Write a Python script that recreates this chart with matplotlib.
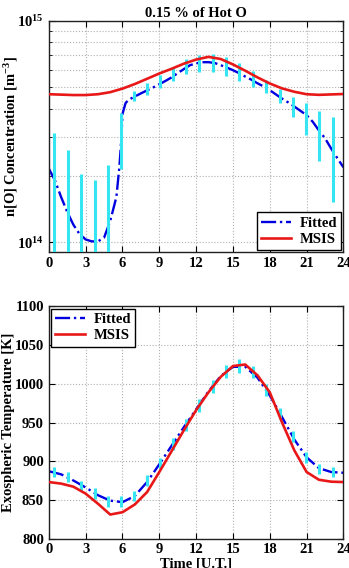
import numpy as np
import matplotlib
matplotlib.use('Agg')
import matplotlib.pyplot as plt
from matplotlib.ticker import NullFormatter, LogLocator

plt.rcParams['font.family'] = ['Liberation Serif', 'DejaVu Serif']
plt.rcParams['font.weight'] = 'bold'
plt.rcParams['font.size'] = 10.5
plt.rcParams['mathtext.fontset'] = 'custom'
plt.rcParams['mathtext.rm'] = 'Liberation Serif:bold'
plt.rcParams['mathtext.bf'] = 'Liberation Serif:bold'
plt.rcParams['mathtext.default'] = 'bf'

# ---- data: O density (m^-3) ----
obs_hours = [0.45, 1.55, 2.65, 3.75, 4.8, 5.85, 6.9, 8.0, 9.05, 10.1, 11.2,
             12.26, 13.35, 14.43, 15.5, 16.6, 17.7, 18.8, 19.86, 20.95, 22.04, 23.13]
dens_obs = [1.9e14, 1.35e14, 1.07e14, 1.01e14, 1.15e14, 3.0e14, 4.58e14, 4.92e14,
            5.35e14, 5.78e14, 6.23e14, 6.43e14, 6.47e14, 6.25e14, 5.9e14, 5.48e14,
            5.07e14, 4.58e14, 4.1e14, 3.64e14, 3.13e14, 2.59e14]
dens_err = [1.2e14, 1.27e14, 0.97e14, 0.9e14, 1.09e14, 0.85e14, 0.24e14, 0.3e14,
            0.36e14, 0.43e14, 0.5e14, 0.57e14, 0.6e14, 0.6e14, 0.54e14, 0.45e14,
            0.34e14, 0.34e14, 0.43e14, 0.6e14, 0.8e14, 1.07e14]

fit_hours = [0, 0.5, 1, 1.5, 2, 2.5, 3, 3.5, 4, 4.5, 5, 5.5, 5.75, 5.9, 6.0, 6.25,
             6.5, 7, 7.5, 8, 8.5, 9, 9.5, 10, 10.5, 11, 11.5, 12, 12.5, 13, 13.5,
             14, 14.5, 15, 15.5, 16, 16.5, 17, 17.5, 18, 18.5, 19, 19.5, 20, 20.5,
             21, 21.5, 22, 22.5, 23, 23.5, 24]
dens_fit = [2.15, 1.9, 1.6, 1.37, 1.2, 1.09, 1.03, 1.01, 1.01, 1.05, 1.25, 1.6,
            2.2, 2.9, 3.8, 4.25, 4.4, 4.55, 4.7, 4.85, 5.0, 5.17, 5.35, 5.55, 5.8,
            6.05, 6.3, 6.42, 6.5, 6.5, 6.45, 6.3, 6.15, 5.98, 5.8, 5.6, 5.42, 5.22,
            5.05, 4.86, 4.65, 4.45, 4.28, 4.1, 3.92, 3.75, 3.5, 3.2, 2.95, 2.65,
            2.4, 2.18]

msis_hours = list(range(25))
dens_msis = [4.66, 4.64, 4.62, 4.62, 4.66, 4.76, 4.94, 5.18, 5.47, 5.78, 6.07,
             6.4, 6.68, 6.87, 6.72, 6.35, 5.95, 5.55, 5.21, 4.95, 4.78, 4.66,
             4.63, 4.65, 4.67]

# ---- data: exospheric temperature (K) ----
temp_obs = [885.5, 879, 868, 858, 848, 848, 855, 875, 897, 922, 947,
            972, 997, 1016, 1023, 1015, 992, 962, 932, 905, 890, 886]
temp_err = [6.5, 6.5, 7, 7, 7, 7, 7, 7, 7, 7.5, 7.5,
            8.5, 8.5, 8.5, 8.5, 8, 7.5, 7, 7, 7, 6.5, 6.5]
temp_fit = [887, 883, 875, 866, 856, 849, 847, 855, 873, 896, 920, 944, 967,
            990, 1010, 1022, 1022, 1008, 985, 957, 928, 905, 891, 886, 885]
temp_msis = [873, 871, 867, 858, 845, 831, 834, 844, 860, 886, 913, 940, 966,
             989, 1009, 1023, 1025, 1011, 989, 950, 914, 886, 876, 873.5, 873]

hour_ticks = list(range(0, 25, 3))

cyan = '#35e6f2'
grid_kw = dict(color='#b0b0b0', linestyle=':', linewidth=0.8)
legend_kw = dict(fancybox=False, edgecolor='black', borderaxespad=0.15,
                 handlelength=2.0, borderpad=0.3, labelspacing=0.2,
                 handletextpad=0.6)


def style_axes(ax):
    ax.tick_params(direction='in', top=True, right=True, length=4, width=0.8)
    ax.tick_params(which='minor', direction='in', top=True, right=True, length=2)
    for s in ax.spines.values():
        s.set_linewidth(1.0)
        s.set_color('#202020')


fig = plt.figure(figsize=(3.49, 5.68), dpi=100)

# ---- top panel ----
ax1 = fig.add_axes([0.140, 0.5555, 0.844, 0.408])
ax1.set_yscale('log')
ax1.errorbar(obs_hours, dens_obs, yerr=dens_err, fmt='none', ecolor=cyan,
             elinewidth=2.2, capsize=0, zorder=3)
ax1.plot(fit_hours, np.array(dens_fit) * 1e14, color='#0000e0', linestyle='-.',
         linewidth=1.7, label='Fitted', zorder=2)
ax1.plot(msis_hours, np.array(dens_msis) * 1e14, color='#e81818', linewidth=1.9,
         label='MSIS', zorder=4)
ax1.set_xlim(0, 24)
ax1.set_ylim(9e13, 1e15)
ax1.set_xticks(hour_ticks)
ax1.set_yticks([1e14, 1e15])
ax1.set_yticklabels([r'$10^{14}$', r'$10^{15}$'])
ax1.yaxis.set_minor_locator(LogLocator(base=10, subs=np.arange(2, 10)))
ax1.yaxis.set_minor_formatter(NullFormatter())
ax1.grid(True, which='major', **grid_kw)
ax1.grid(True, which='minor', axis='y', **grid_kw)
ax1.set_ylabel(r'n[O] Concentration [m$^{-3}$]', fontweight='bold')
ax1.yaxis.set_label_coords(-0.098, 0.5)
ax1.set_title('0.15 % of Hot O', fontweight='bold', fontsize=10.5, pad=3)
style_axes(ax1)
leg1 = ax1.legend(loc='lower right', **legend_kw)
leg1.get_frame().set_linewidth(1.0)
leg1.get_frame().set_alpha(1)

# ---- bottom panel ----
ax2 = fig.add_axes([0.140, 0.0519, 0.844, 0.4085])
ax2.errorbar(obs_hours, temp_obs, yerr=temp_err, fmt='none', ecolor=cyan,
             elinewidth=2.2, capsize=0, zorder=3)
ax2.plot(msis_hours, temp_fit, color='#0000e0', linestyle='-.', linewidth=1.7,
         label='Fitted', zorder=2)
ax2.plot(msis_hours, temp_msis, color='#e81818', linewidth=1.9, label='MSIS',
         zorder=4)
ax2.set_xlim(0, 24)
ax2.set_ylim(800, 1100)
ax2.set_xticks(hour_ticks)
ax2.set_yticks(range(800, 1101, 50))
ax2.grid(True, **grid_kw)
ax2.set_ylabel('Exospheric Temperature [K]', fontweight='bold')
ax2.yaxis.set_label_coords(-0.115, 0.5)
ax2.set_xlabel('Time [U.T.]', fontweight='bold', labelpad=1)
style_axes(ax2)
leg2 = ax2.legend(loc='upper left', **legend_kw)
leg2.get_frame().set_linewidth(1.0)
leg2.get_frame().set_alpha(1)

plt.savefig('out.png', dpi=100)
